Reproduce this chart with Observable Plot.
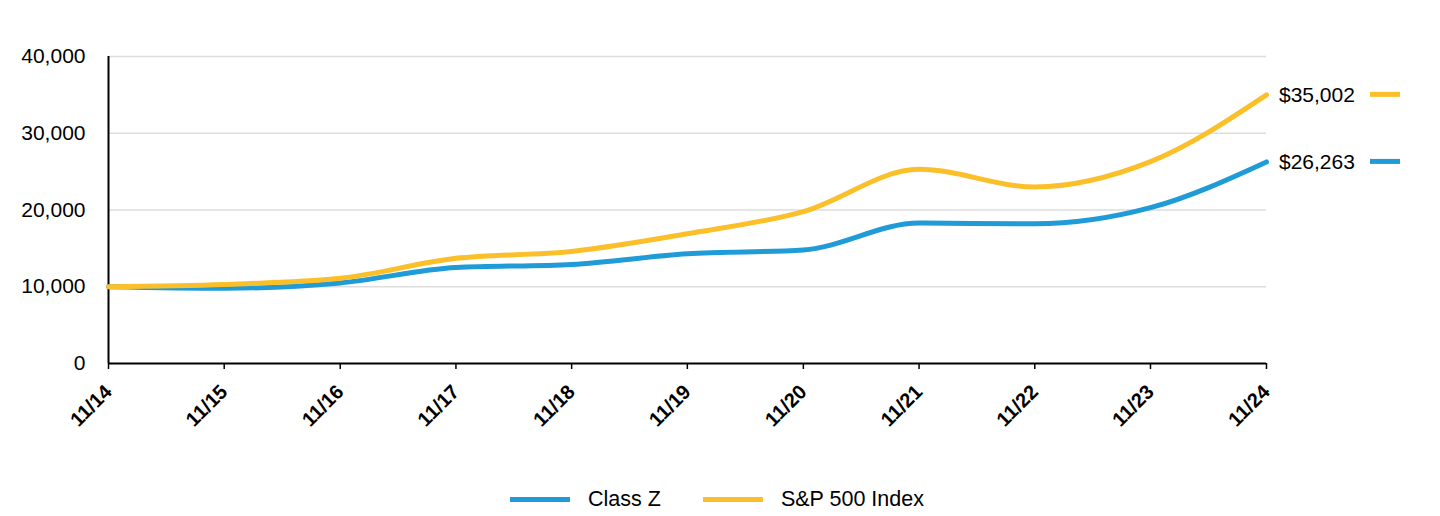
<!DOCTYPE html>
<html>
<head>
<meta charset="utf-8">
<script src="https://cdn.jsdelivr.net/npm/d3@7"></script>
<script src="https://cdn.jsdelivr.net/npm/@observablehq/plot@0.6"></script>
<style>
  html, body { margin: 0; padding: 0; background: #fff; }
  body { width: 1440px; height: 516px; overflow: hidden; font-family: "Liberation Sans", Arial, sans-serif; }
  #legend { display: flex; justify-content: center; align-items: center; height: 46px; padding-top: 6px; font-size: 21.5px; color: #000; padding-right: 6px; }
  .item { display: flex; align-items: center; margin: 0 21px; }
  .sw { width: 60px; height: 5px; margin-right: 18px; }
</style>
</head>
<body>
<div id="chart"></div>
<div id="legend"></div>
<script>
const years = ["11/14","11/15","11/16","11/17","11/18","11/19","11/20","11/21","11/22","11/23","11/24"];
const classZ = [10000, 9800, 10500, 12500, 12900, 14300, 14800, 18300, 18200, 20300, 26263];
const sp500 = [10000, 10300, 11100, 13700, 14600, 16900, 19800, 25300, 23000, 26300, 35002];
const seriesNames = ["Class Z", "S&P 500 Index"];
const seriesColors = ["#1f9bd7", "#fbbf2a"];
const yTicks = [0, 10000, 20000, 30000, 40000];

const parse = s => new Date(Date.UTC(2000 + +s.slice(3), 10, 1));
const rows = [];
years.forEach((t, i) => {
  rows.push({date: parse(t), label: t, value: classZ[i], series: seriesNames[0]});
  rows.push({date: parse(t), label: t, value: sp500[i], series: seriesNames[1]});
});
const ends = [
  {series: seriesNames[1], value: sp500[sp500.length - 1], color: seriesColors[1]},
  {series: seriesNames[0], value: classZ[classZ.length - 1], color: seriesColors[0]}
];
const lastDate = parse(years[years.length - 1]);

const endMarks = (index, scales) => {
  const g = d3.create("svg:g");
  for (const e of ends) {
    const y = scales.y(e.value);
    const x = scales.x(lastDate);
    g.append("text").attr("x", x + 13).attr("y", y).attr("dy", "0.35em")
      .attr("text-anchor", "start")
      .attr("font-size", 21).attr("fill", "#000").text("$" + d3.format(",")(e.value));
    g.append("line").attr("x1", x + 104).attr("x2", x + 134).attr("y1", y).attr("y2", y)
      .attr("stroke", e.color).attr("stroke-width", 5);
  }
  return g.node();
};

const chart = Plot.plot({
  width: 1440,
  height: 470,
  marginLeft: 108,
  marginRight: 174,
  marginTop: 56,
  marginBottom: 107,
  style: {fontFamily: "'Liberation Sans', Arial, sans-serif", background: "#fff", color: "#000", overflow: "visible"},
  x: {type: "utc", domain: [parse(years[0]), lastDate], ticks: years.map(parse), tickFormat: d3.utcFormat("%m/%y"), label: null},
  y: {domain: [0, 40000], ticks: yTicks, label: null},
  color: {domain: seriesNames, range: seriesColors},
  marks: [
    Plot.gridY(yTicks.filter(d => d > 0), {stroke: "#dddddd", strokeOpacity: 1, strokeWidth: 1.5}),
    Plot.axisY({ticks: yTicks, tickSize: 0, tickPadding: 23, fontSize: 21, tickFormat: d3.format(","), label: null}),
    Plot.axisX({ticks: years.map(parse), tickFormat: d3.utcFormat("%m/%y"), tickRotate: -45, tickSize: 6, tickPadding: 19, fontSize: 20, fontWeight: "bold", label: null, strokeWidth: 1.5}),
    Plot.ruleY([0], {stroke: "#000", strokeWidth: 2}),
    Plot.ruleX([parse(years[0])], {stroke: "#000", strokeWidth: 2}),
    Plot.line(rows, {x: "date", y: "value", stroke: "series", strokeWidth: 5, curve: "monotone-x"}),
    endMarks
  ]
});
document.getElementById("chart").appendChild(chart);

const leg = d3.select("#legend");
seriesNames.forEach((n, i) => {
  const it = leg.append("div").attr("class", "item");
  it.append("div").attr("class", "sw").style("background", seriesColors[i]);
  it.append("span").text(n);
});
</script>
</body>
</html>
